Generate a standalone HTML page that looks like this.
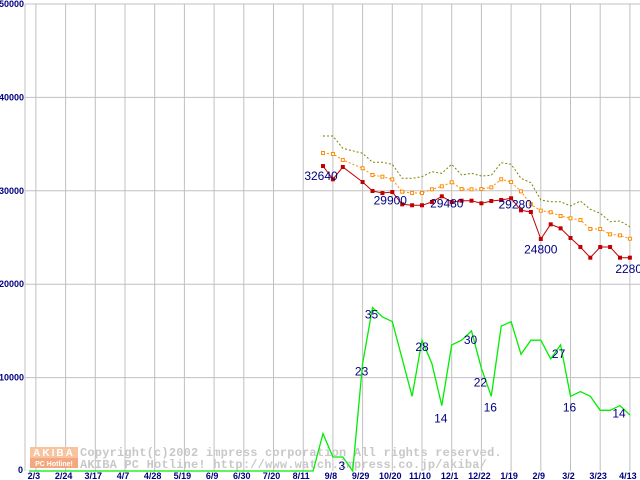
<!DOCTYPE html>
<html><head><meta charset="utf-8"><style>
body{margin:0;background:#fff;}
svg{display:block;font-family:"Liberation Sans",sans-serif;}
.yl{font-size:9px;font-weight:bold;fill:#000080;}
.xl{font-size:9px;font-weight:bold;fill:#000080;}
.lab{font-size:12px;fill:#000080;}
</style></head><body>
<svg id="chart" width="640" height="480" viewBox="0 0 640 480" xmlns="http://www.w3.org/2000/svg">
<g id="grid"></g>
<g id="wm">
<rect x="30" y="447" width="48" height="11" fill="#f8c4a0"/>
<rect x="30" y="458" width="48" height="10" fill="#f4a880"/>
<text x="54" y="456" text-anchor="middle" font-size="10" font-weight="bold" fill="#fff" letter-spacing="2">AKIBA</text>
<text x="54" y="466" text-anchor="middle" font-size="7" font-weight="bold" fill="#fff">PC Hotline!</text>
<text x="80" y="456" font-size="12" font-weight="bold" fill="#c8c8c8" letter-spacing="0.2" font-family="Liberation Mono,monospace">Copyright(c)2002 impress corporation All rights reserved.</text>
<text x="80" y="468" font-size="12" font-weight="bold" fill="#c8c8c8" letter-spacing="0.2" font-family="Liberation Mono,monospace">AKIBA PC Hotline!  http://www.watch.impress.co.jp/akiba/</text>
</g>
<g id="series"></g>
<g id="labels"></g>
</svg>
<script>
const yTicks=[0,10000,20000,30000,40000,50000];
const xTickLabels=["2/3","2/24","3/17","4/7","4/28","5/19","6/9","6/30","7/20","8/11","9/8","9/29","10/20","11/10","12/1","12/22","1/19","2/9","3/2","3/23","4/13"];
const priceWeeks=[29,30,31,33,34,35,36,37,38,39,40,41,42,43,44,45,46,47,48,49,50,51,52,53,54,55,56,57,58,59,60];
const lowPrice=[32650,31230,32550,30940,29980,29760,29870,28550,28450,28450,28800,29410,28800,28940,28940,28660,28910,29020,29200,27910,27730,24840,26410,25980,24950,23980,22840,23980,23980,22840,22840];
const avgPrice=[34050,33940,33300,32410,31690,31510,31230,29900,29760,29760,30160,30480,30910,30190,30160,30190,30370,31230,30940,29940,28550,27870,27700,27300,27060,26870,25910,25910,25340,25230,24870];
const highPrice=[35870,35870,34550,34010,33050,33050,32840,31340,31340,31510,32050,31870,32840,31690,31870,31580,31660,33010,32840,31340,30870,29020,28830,28830,28370,28910,28020,27590,26690,26770,26160];
const shopCount=[0,0,0,0,0,0,0,0,0,0,0,0,0,0,0,0,0,0,0,0,0,0,0,0,0,0,0,0,0,8,3,3,0,23,35,33,32,24,16,28,23,14,27,28,30,22,16,31,32,25,28,28,24,27,16,17,16,13,13,14,12];
const priceLabels=[[29,32640,-2,14],[36,29900,-2,13],[41,29480,5,12],[47,29280,14,11],[51,24800,0,14],[59,22800,12,15]];
const countLabels=[[33,23,-1,12],[34,35,-1,11],[31,3,-1,13],[39,28,0,11],[41,14,-1,17],[44,30,-1,13],[45,22,-1,18],[46,16,-1,15],[53,27,-2,13],[54,16,-1,15],[59,14,-1,12]];
const NS='http://www.w3.org/2000/svg';
const X0=25,Y0=471,YT=4,W0=35.9,WS=9.9,CNT=500;
const xw=w=>W0+WS*w;
const yv=v=>Y0-(v/50000)*(Y0-YT);
function mk(t,a,p){const e=document.createElementNS(NS,t);for(const k in a)e.setAttribute(k,a[k]);p.appendChild(e);return e;}
const grid=document.getElementById('grid'),ser=document.getElementById('series'),lab=document.getElementById('labels');
yTicks.forEach(v=>{const y=yv(v);
 if(v>0){const l=mk('line',{x1:X0,x2:640,y1:y,y2:y,stroke:'#c0c0c0','stroke-width':1},grid);
 
 }
 const t=mk('text',{x:v===0?23:24,y:y+(v===0?2:3),'text-anchor':'end',class:'yl','font-size':v===0?8:9},grid);t.textContent=v;
 
 });
xTickLabels.forEach((s,i)=>{const x=xw(i*3);
 const l=mk('line',{x1:x,x2:x,y1:YT,y2:Y0,stroke:'#c0c0c0','stroke-width':1},grid);
 
 
 const t=mk('text',{x:x-2,y:479,'text-anchor':'middle',class:'xl'},grid);t.textContent=s;
 
 });
const ax=mk('line',{x1:X0,x2:X0,y1:YT,y2:Y0,stroke:'#c0c0c0'},grid);


function pts(ws,vs){return ws.map((w,i)=>xw(w).toFixed(1)+','+yv(vs[i]).toFixed(1)).join(' ');}
const hi=mk('polyline',{points:pts(priceWeeks,highPrice),fill:'none',stroke:'#808000','stroke-width':1,'stroke-dasharray':'2,2'},ser);


const av=mk('polyline',{points:pts(priceWeeks,avgPrice),fill:'none',stroke:'#ff8c00','stroke-width':1,'stroke-dasharray':'2,2'},ser);


priceWeeks.forEach((w,i)=>{const r=mk('rect',{x:xw(w)-1.5,y:yv(avgPrice[i])-1.5,width:3,height:3,fill:'#fff',stroke:'#ff8c00','stroke-width':1},ser);
 
 });
const lo=mk('polyline',{points:pts(priceWeeks,lowPrice),fill:'none',stroke:'#c00000','stroke-width':1},ser);


priceWeeks.forEach((w,i)=>{const r=mk('rect',{x:xw(w)-2,y:yv(lowPrice[i])-2,width:4,height:4,fill:'#c00000'},ser);
 
 });
const cw=shopCount.map((v,i)=>i);
const gp=[(X0+4).toFixed(1)+','+yv(0).toFixed(1)].concat(cw.map(i=>xw(i).toFixed(1)+','+yv(shopCount[i]*CNT).toFixed(1))).join(' ');
const gl=mk('polyline',{points:gp,fill:'none',stroke:'#00ee00','stroke-width':1.3},ser);


priceLabels.forEach(([w,v,dx,dy])=>{const t=mk('text',{x:xw(w)+dx,y:yv(v)+dy,'text-anchor':'middle',class:'lab'},lab);t.textContent=v;
 
 });
countLabels.forEach(([w,v,dx,dy])=>{const t=mk('text',{x:xw(w)+dx,y:yv(v*CNT)+dy,'text-anchor':'middle',class:'lab'},lab);t.textContent=v;
 
 });
</script>
</body></html>
